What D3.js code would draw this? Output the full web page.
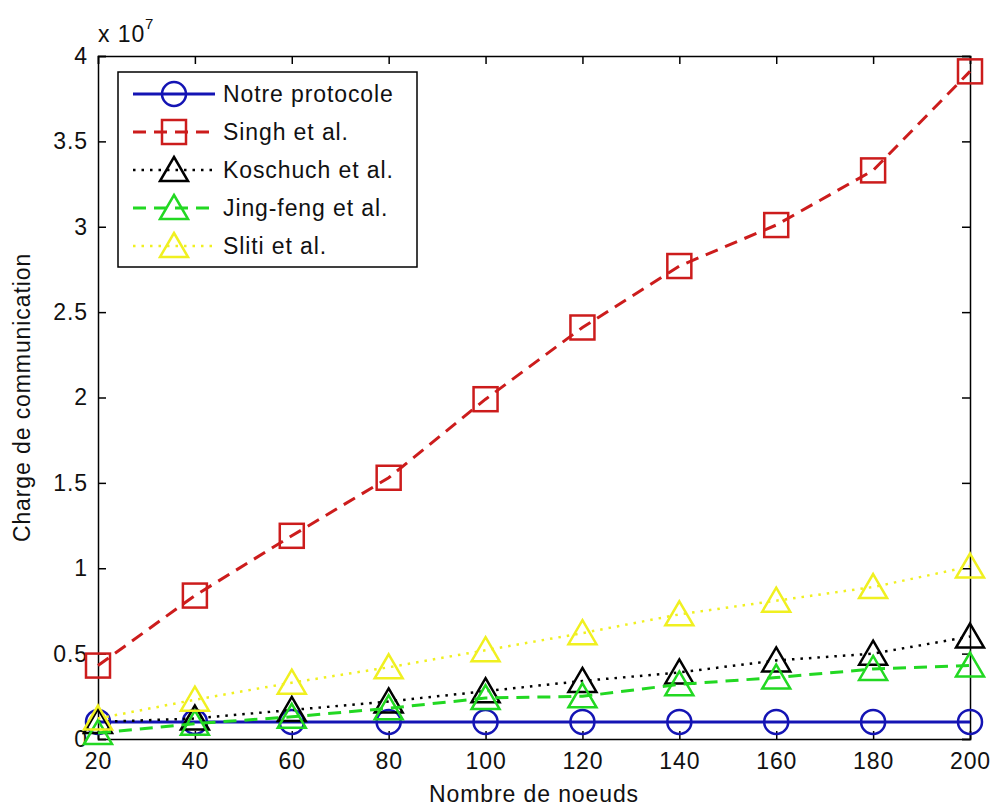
<!DOCTYPE html>
<html>
  <head>
    <meta charset="utf-8" />
    <script src="https://cdn.jsdelivr.net/npm/d3@7"></script>
    <style>
      body { margin: 0; background: #fff; }
      text { font-family: "Liberation Sans", Arial, sans-serif; fill: #111; letter-spacing: 0.9px; }
    </style>
  </head>
  <body>
    <script>
      // data, values in units of 1e7
      const noeuds = [20, 40, 60, 80, 100, 120, 140, 160, 180, 200];
      const notre = [0.1, 0.1, 0.1, 0.1, 0.1, 0.1, 0.1, 0.1, 0.1, 0.1];
      const singh = [0.43, 0.84, 1.19, 1.53, 1.99, 2.41, 2.77, 3.01, 3.33, 3.91];
      const koschuch = [0.1, 0.12, 0.17, 0.22, 0.28, 0.34, 0.39, 0.46, 0.5, 0.6];
      const jingfeng = [0.035, 0.09, 0.13, 0.18, 0.24, 0.25, 0.32, 0.36, 0.41, 0.43];
      const sliti = [0.12, 0.23, 0.33, 0.42, 0.52, 0.62, 0.73, 0.81, 0.89, 1.01];
      const xTicks = [20, 40, 60, 80, 100, 120, 140, 160, 180, 200];
      const yTicks = [0, 0.5, 1, 1.5, 2, 2.5, 3, 3.5, 4];

      const series = [
        { name: "Notre protocole", values: notre, color: "#1414b4", dash: null, marker: "circle", lw: 3 },
        { name: "Singh et al.", values: singh, color: "#cc1c1c", dash: "13,8", marker: "square", lw: 3 },
        { name: "Koschuch et al.", values: koschuch, color: "#000000", dash: "2.5,6", marker: "triangle", lw: 2.5 },
        { name: "Jing-feng et al.", values: jingfeng, color: "#22d822", dash: "13,8", marker: "triangle", lw: 3 },
        { name: "Sliti et al.", values: sliti, color: "#f0f020", dash: "2.5,6", marker: "triangle", lw: 2.5 },
      ];

      const margin = { top: 56, right: 21, bottom: 70, left: 98 };
      const W = 991, H = 809;
      const w = W - margin.left - margin.right;
      const h = H - margin.top - margin.bottom;

      const svg = d3.select("body").append("svg")
        .attr("width", W).attr("height", H);
      const g = svg.append("g")
        .attr("transform", "translate(" + margin.left + "," + margin.top + ")");

      const x = d3.scaleLinear().domain([20, 200]).range([0, w]);
      const y = d3.scaleLinear().domain([0, 4]).range([h, 0]);

      // axes, ticks pointing inward on all four sides
      const fmt = d => String(d);
      g.append("g").attr("transform", "translate(0," + h + ")")
        .call(d3.axisBottom(x).tickValues(xTicks).tickSize(-8).tickPadding(14).tickFormat(fmt));
      g.append("g").call(d3.axisTop(x).tickValues(xTicks).tickSize(-8).tickFormat(""));
      g.append("g")
        .call(d3.axisLeft(y).tickValues(yTicks).tickSize(-8).tickPadding(10).tickFormat(fmt));
      g.append("g").attr("transform", "translate(" + w + ",0)")
        .call(d3.axisRight(y).tickValues(yTicks).tickSize(-8).tickFormat(""));
      g.selectAll(".domain").attr("stroke", "#000").attr("stroke-width", 1.5);
      g.selectAll(".tick line").attr("stroke", "#000").attr("stroke-width", 1.5);
      g.selectAll(".tick text").style("font-size", "23px").attr("fill", "#111");

      function marker(sel, type, color) {
        if (type === "circle") {
          sel.append("circle").attr("r", 12);
        } else if (type === "square") {
          sel.append("rect").attr("x", -12).attr("y", -12).attr("width", 24).attr("height", 24);
        } else {
          sel.append("path").attr("d", "M0,-13L14,11L-14,11Z");
        }
        sel.selectAll("*").attr("fill", "none").attr("stroke", color).attr("stroke-width", 2.5);
      }

      const line = d3.line().x((d, i) => x(noeuds[i])).y(d => y(d));

      series.forEach(s => {
        g.append("path").datum(s.values)
          .attr("d", line)
          .attr("fill", "none")
          .attr("stroke", s.color)
          .attr("stroke-width", s.lw)
          .attr("stroke-dasharray", s.dash);
        g.selectAll(null).data(s.values).enter().append("g")
          .attr("transform", (d, i) => "translate(" + x(noeuds[i]) + "," + y(d) + ")")
          .each(function () { marker(d3.select(this), s.marker, s.color); });
      });

      // x 10^7 multiplier
      const mult = svg.append("text").attr("x", 98).attr("y", 42).style("font-size", "23px");
      mult.append("tspan").text("x 10");
      mult.append("tspan").attr("dy", -13).style("font-size", "15px").text("7");

      // axis labels
      svg.append("text").attr("x", margin.left + w / 2).attr("y", 802)
        .attr("text-anchor", "middle").style("font-size", "23px").text("Nombre de noeuds");
      svg.append("text")
        .attr("transform", "translate(30," + (margin.top + h / 2) + ") rotate(-90)")
        .attr("text-anchor", "middle").style("font-size", "23px").text("Charge de communication");

      // legend
      const lg = svg.append("g").attr("transform", "translate(118,72)");
      lg.append("rect").attr("width", 299).attr("height", 195)
        .attr("fill", "#fff").attr("stroke", "#000").attr("stroke-width", 1.5);
      series.forEach((s, i) => {
        const row = lg.append("g").attr("transform", "translate(0," + (22 + i * 38) + ")");
        row.append("line").attr("x1", 15).attr("x2", 97)
          .attr("stroke", s.color).attr("stroke-width", s.lw)
          .attr("stroke-dasharray", s.dash);
        const m = row.append("g").attr("transform", "translate(56,0)");
        marker(m, s.marker, s.color);
        row.append("text").attr("x", 105).attr("dy", "0.36em")
          .style("font-size", "23px").text(s.name);
      });
    </script>
  </body>
</html>
